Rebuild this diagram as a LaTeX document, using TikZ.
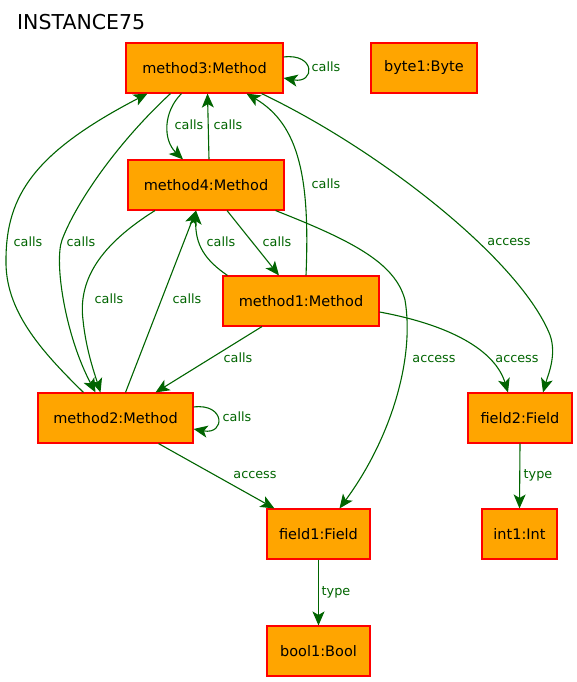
\documentclass[tikz,border=0pt]{standalone}
\usepackage{fontspec}
\setmainfont{DejaVu Sans}
\usetikzlibrary{arrows.meta,calc}
\definecolor{nodefill}{HTML}{FFA500}
\definecolor{nodeline}{HTML}{FF0000}
\definecolor{edgecol}{HTML}{006400}
\tikzset{
  obj/.style={draw=nodeline, fill=nodefill, line width=1.1pt, inner sep=0pt,
    minimum height=50, font=\fontsize{14.5}{17}\selectfont},
  lbl/.style={text=edgecol, inner sep=0pt, font=\fontsize{12.8}{15}\selectfont},
  edge/.style={draw=edgecol, line width=1.1pt, -{Stealth[length=14pt,width=12pt,inset=3.5pt]}},
}
\begin{document}
\begin{tikzpicture}[x=1pt,y=-1pt]
\useasboundingbox (0,0) rectangle (577,682);
\node[anchor=base west, inner sep=0pt, font=\fontsize{20.5}{24}\selectfont] (title) at (17,30) {INSTANCE75};
% nodes
\node[obj, minimum width=157] (m3) at (204.5,68) {method3:Method};
\node[obj, minimum width=106] (b1) at (424,68) {byte1:Byte};
\node[obj, minimum width=156] (m4) at (206,185) {method4:Method};
\node[obj, minimum width=156] (m1) at (301,301) {method1:Method};
\node[obj, minimum width=155] (m2) at (115.5,418) {method2:Method};
\node[obj, minimum width=104] (f2) at (520,418) {field2:Field};
\node[obj, minimum width=103] (f1) at (318.5,534) {field1:Field};
\node[obj, minimum width=75] (i1) at (519.5,534) {int1:Int};
\node[obj, minimum width=103] (bo1) at (318.5,651) {bool1:Bool};
% edges
\draw[edge] ($(m3.east)+(0,-11)$) .. controls +(32,-4) and +(32,6) .. ($(m3.east)+(0,10)$);
\node[lbl] (l1) at (326,67) {calls};
\draw[edge] ($(m3.south)+(-23,0)$) .. controls (163,112) and (163,140) .. ($(m4.north)+(-23,0)$);
\node[lbl] (l2) at (189,125) {calls};
\draw[edge] ($(m4.north)+(3,0)$) -- ($(m3.south)+(3,0)$);
\node[lbl] (l3) at (228,125) {calls};
\draw[edge] ($(m1.north)+(5,0)$) .. controls (310,180) and (300,125) .. ($(m3.south)+(42,0)$);
\node[lbl] (l4) at (326,184) {calls};
\draw[edge] ($(m3.south)+(57,0)$) .. controls (380,150) and (520,260) .. (550,335) .. controls (557,355) and (548,375) .. ($(f2.north)+(23,0)$);
\node[lbl] (l5) at (509,242) {access};
\draw[edge] ($(m3.south)+(-34,0)$) .. controls (115,145) and (75,205) .. (62,240) .. controls (54,262) and (65,335) .. ($(m2.north)+(-20,0)$);
\node[lbl] (l6) at (81,242) {calls};
\draw[edge] ($(m2.north)+(-32,0)$) .. controls (40,350) and (5,310) .. (6,260) .. controls (6,195) and (35,152) .. ($(m3.south)+(-57,0)$);
\node[lbl] (l7) at (28,242) {calls};
\draw[edge] ($(m4.south)+(-51,0)$) .. controls (100,245) and (78,280) .. (83,320) .. controls (86,350) and (95,375) .. ($(m2.north)+(-15,0)$);
\node[lbl] (l8) at (109,299) {calls};
\draw[edge] ($(m2.north)+(10,0)$) -- ($(m4.south)+(-10,0)$);
\node[lbl] (l9) at (187,299) {calls};
\draw[edge] ($(m1.north west)+(5,0)$) .. controls (205,260) and (195,245) .. ($(m4.south)+(-10,0)$);
\node[lbl] (l10) at (221,242) {calls};
\draw[edge] ($(m4.south)+(21,0)$) -- ($(m1.north)+(-22,0)$);
\node[lbl] (l11) at (277,242) {calls};
\draw[edge] ($(m4.south east)+(-9,0)$) .. controls (350,240) and (395,262) .. (405,300) .. controls (415,360) and (390,440) .. ($(f1.north)+(21,0)$);
\node[lbl] (l12) at (434,359) {access};
\draw[edge] ($(m1.south)+(-39,0)$) -- ($(m2.north)+(40,0)$);
\node[lbl] (l13) at (238,358) {calls};
\draw[edge] ($(m1.east)+(0,11)$) .. controls (450,325) and (495,350) .. ($(f2.north)+(-12,0)$);
\node[lbl] (l14) at (517,359) {access};
\draw[edge] ($(m2.east)+(0,-11)$) .. controls +(32,-4) and +(32,6) .. ($(m2.east)+(0,11)$);
\node[lbl] (l15) at (237,417) {calls};
\draw[edge] ($(m2.south)+(43,0)$) -- ($(f1.north west)+(8,0)$);
\node[lbl] (l16) at (255,475) {access};
\draw[edge] (f2.south) -- (i1.north);
\node[lbl] (l17) at (538,475) {type};
\draw[edge] (f1.south) -- (bo1.north);
\node[lbl] (l18) at (336,592) {type};
\end{tikzpicture}
\end{document}
